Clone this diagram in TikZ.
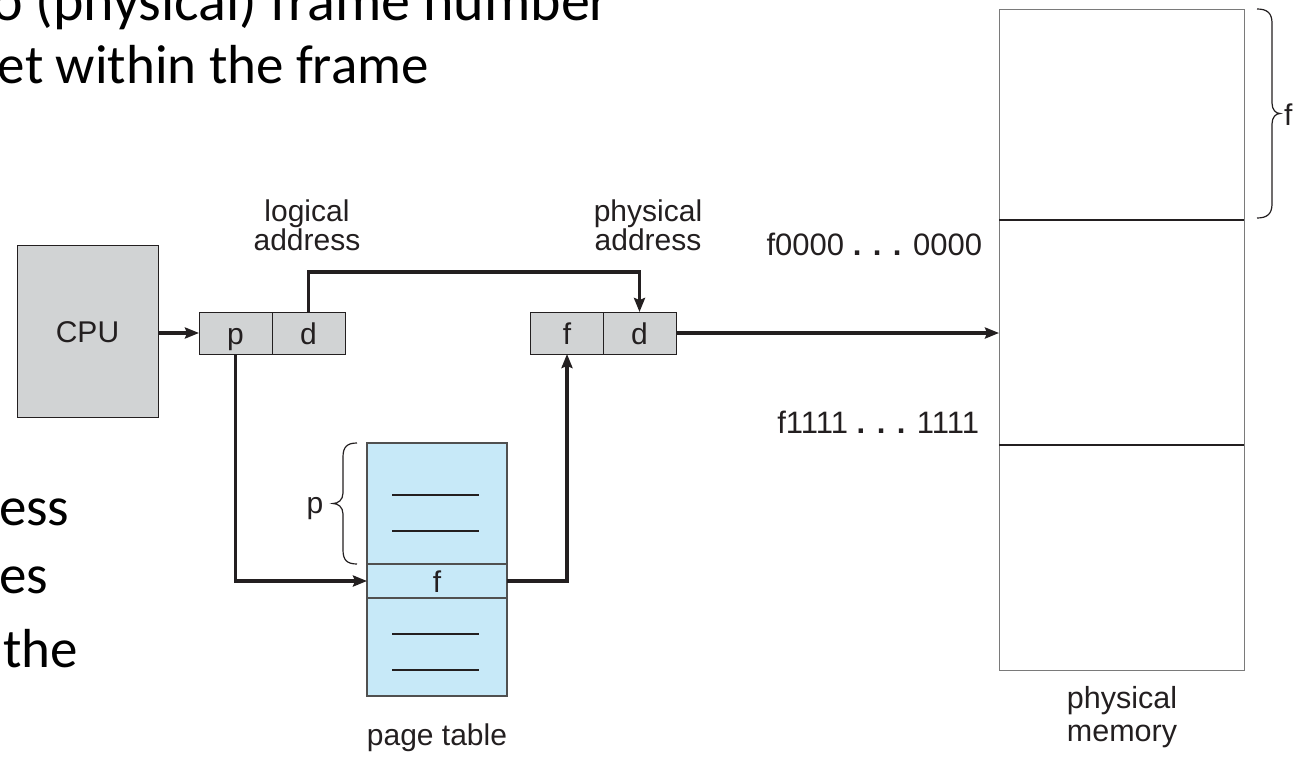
\documentclass[tikz,border=0pt]{standalone}
\usepackage{fontspec}
\setmainfont{Liberation Sans}
\newfontfamily\slidefont{Carlito}
\usetikzlibrary{arrows.meta}

\definecolor{ink}{HTML}{231F20}
\definecolor{boxgray}{HTML}{D1D3D4}
\definecolor{ptblue}{HTML}{C7E9F8}
\definecolor{edgegray}{HTML}{505050}
\definecolor{memedge}{HTML}{7A7A7A}

\begin{document}
\begin{tikzpicture}[x=1pt,y=-1pt,
  every node/.style={inner sep=0pt, outer sep=0pt, text=ink},
  lbl/.style={font=\fontsize{30}{24}\selectfont, align=center},
  addr/.style={font=\fontsize{31}{31}\selectfont, anchor=base east},
  slide/.style={font=\slidefont\fontsize{55}{55}\selectfont, text=black, anchor=base west},
  capbox/.style={text height=22pt, text depth=0pt},
  cell/.style={draw=ink, line width=1pt, fill=boxgray, minimum width=73pt,
    minimum height=42pt, font=\fontsize{30}{30}\selectfont, capbox},
  ptrow/.style={draw=edgegray, line width=1.2pt, fill=ptblue, minimum width=140pt,
    font=\fontsize{30}{30}\selectfont, capbox},
  memrow/.style={draw=memedge, line width=1pt, minimum width=245pt},
  divider/.style={draw=ink, line width=1.6pt},
  entry/.style={draw=ink, line width=1.5pt},
  brace/.style={draw=ink, line width=1.2pt},
  conn/.style={draw=ink, line width=3.3pt, -{Stealth[length=14pt,width=11pt,inset=2pt]}},
]
\useasboundingbox (0,0) rectangle (1308,771);
\clip (0,0) rectangle (1308,771);

% slide text around the figure
\node[slide, font=\slidefont\fontsize{58}{58}\selectfont] (s1) at (-8,20) {o (physical) frame number};
\node[slide] (s2) at (-2,83) {et within the frame};
\node[slide] (s3) at (-1,525) {ess};
\node[slide] (s4) at (-1,593) {es};
\node[slide] (s5) at (3,667) {the};

% CPU
\node[draw=ink, line width=1pt, fill=boxgray, minimum width=141pt, minimum height=172pt,
  font=\fontsize{30}{30}\selectfont, capbox] (cpu) at (87.5,331) {CPU};

% logical address p | d
\node[cell] (lap) at (235.5,333) {p};
\node[cell] (lad) at (308.5,333) {d};
\node[lbl, anchor=north] (lalbl) at (307,200) {logical\\address};

% physical address f | d
\node[cell] (paf) at (567,333) {f};
\node[cell] (pad) at (639.5,333) {d};
\node[lbl, anchor=north] (palbl) at (648,200) {physical\\address};

% page table
\node[ptrow, minimum height=121pt] (pttop) at (437,503.5) {};
\node[ptrow, minimum height=34pt] (ptf) at (437,581) {f};
\node[ptrow, minimum height=98pt] (ptbot) at (437,647) {};
\node[font=\fontsize{30}{30}\selectfont, anchor=base] (ptlbl) at (437,745) {page table};
\draw[entry] (392,495) -- (479,495);
\draw[entry] (392,531) -- (479,531);
\draw[entry] (392,634) -- (479,634);
\draw[entry] (392,670) -- (479,670);

% brace p over the page table entries
\draw[brace] (357,443) .. controls (347,443) and (343,447) .. (343,457) -- (343,493)
  .. controls (343,500) and (338,503.5) .. (333,503.5)
  .. controls (338,503.5) and (343,507) .. (343,514) -- (343,550)
  .. controls (343,560) and (347,564) .. (357,564);
\node[font=\fontsize{30}{30}\selectfont, anchor=base] (plbl) at (315,513) {p};

% physical memory
\node[memrow, minimum height=211pt] (mema) at (1121.5,114.5) {};
\node[memrow, minimum height=225pt] (memb) at (1121.5,332.5) {};
\node[memrow, minimum height=225pt] (memc) at (1121.5,557.5) {};
\draw[divider] (mema.south west) -- (mema.south east);
\draw[divider] (memb.south west) -- (memb.south east);
\node[lbl, font=\fontsize{30.5}{33}\selectfont, anchor=north] (memlbl) at (1122,686) {physical\\memory};

\node[addr] (a0) at (982,255) {f0000 \textbf{. . .} 0000};
\node[addr] (a1) at (979,433) {f1111 \textbf{. . .} 1111};

% brace f over one frame
\draw[brace] (1257,9) .. controls (1267,9) and (1272,13) .. (1272,23) -- (1272,103)
  .. controls (1272,110) and (1276,113.5) .. (1280,113.5)
  .. controls (1276,113.5) and (1272,117) .. (1272,124) -- (1272,204)
  .. controls (1272,214) and (1267,218) .. (1257,218);
\node[font=\fontsize{30}{30}\selectfont, anchor=west] (flbl) at (1284,115) {f};

% connectors
\draw[conn] (cpu.east |- lap.west) -- (lap.west);
\draw[conn] (lad.north) -- ++(0,-40) -| (pad.north);
\draw[conn] (lap.south) |- (ptf.west);
\draw[conn] (ptf.east) -| (paf.south);
\draw[conn] (pad.east) -- (pad.east -| memb.west);
\end{tikzpicture}
\end{document}
